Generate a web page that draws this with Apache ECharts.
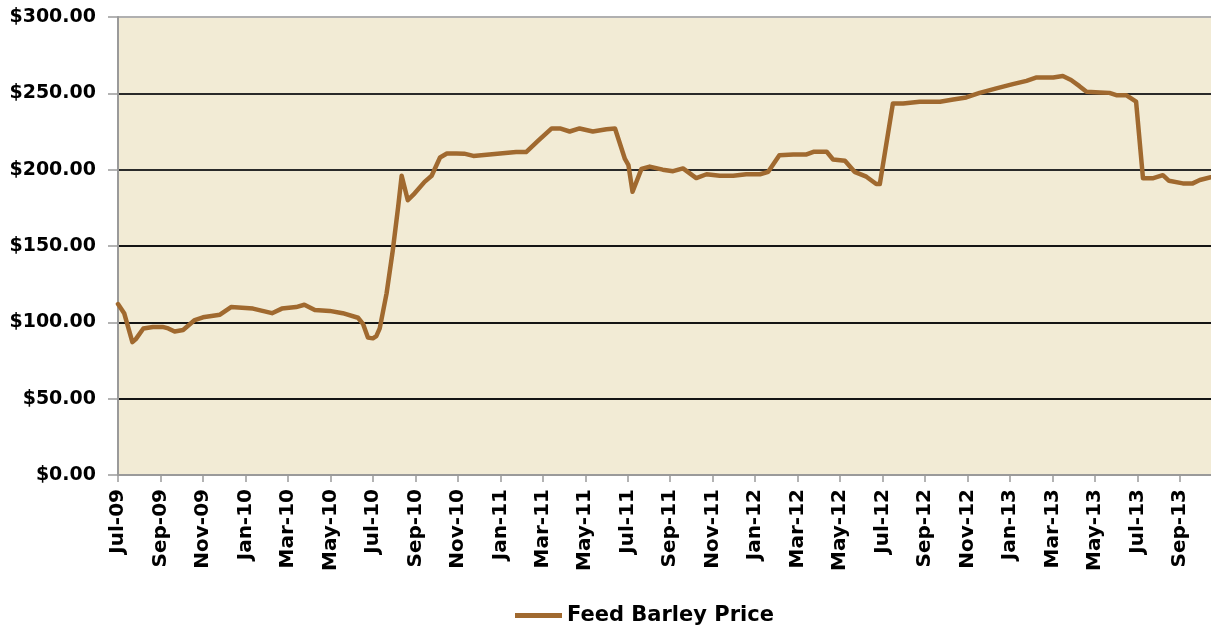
<!DOCTYPE html>
<html>
<head>
<meta charset="utf-8">
<script src="https://cdn.jsdelivr.net/npm/echarts@6/dist/echarts.min.js"></script>
<style>
html,body{margin:0;padding:0;background:#fff;}
#chart{width:1211px;height:631px;}
</style>
</head>
<body>
<div id="chart"></div>
<script>
const dates = [
  '2009-07-01','2009-07-10','2009-07-22','2009-07-27','2009-08-07','2009-08-21','2009-09-04','2009-09-12',
  '2009-09-21','2009-10-03','2009-10-20','2009-11-01','2009-11-25','2009-12-11','2010-01-12','2010-02-08',
  '2010-02-21','2010-03-13','2010-03-25','2010-04-09','2010-04-30','2010-05-19','2010-06-10','2010-06-17',
  '2010-06-24','2010-07-01','2010-07-06','2010-07-11','2010-07-21','2010-07-30','2010-08-07','2010-08-12',
  '2010-08-21','2010-08-31','2010-09-14','2010-09-24','2010-10-06','2010-10-16','2010-10-30','2010-11-10',
  '2010-11-23','2010-12-16','2011-01-24','2011-02-07','2011-02-23','2011-03-14','2011-03-26','2011-04-09',
  '2011-04-23','2011-05-12','2011-06-01','2011-06-13','2011-06-27','2011-07-02','2011-07-08','2011-07-21',
  '2011-08-02','2011-08-21','2011-09-05','2011-09-19','2011-10-08','2011-10-23','2011-11-11','2011-11-30',
  '2011-12-19','2012-01-08','2012-01-20','2012-02-05','2012-02-24','2012-03-14','2012-03-24','2012-04-12',
  '2012-04-21','2012-05-08','2012-05-22','2012-06-08','2012-06-22','2012-06-27','2012-07-16','2012-07-31',
  '2012-08-24','2012-09-22','2012-10-11','2012-10-30','2012-11-18','2012-12-12','2013-01-05','2013-01-25',
  '2013-02-08','2013-03-02','2013-03-16','2013-03-28','2013-04-09','2013-04-19','2013-05-08','2013-05-22',
  '2013-06-01','2013-06-15','2013-06-29','2013-07-09','2013-07-23','2013-08-07','2013-08-16','2013-09-05',
  '2013-09-19','2013-09-29','2013-10-15'
];
// Feed barley price ($/tonne)
const prices = [
  112,106,87,89,96,97,97,96,
  94,95,101.5,103.3,105,110,109,106,
  109,110,111.5,108,107.5,106,103,99,
  90,89.5,91,96,119,147,176,196,
  180,184.5,192,196,208,210.6,210.6,210.5,
  209,210,211.5,211.5,219,227,227,225,
  227,225,226.5,227,207,203,185.5,200.5,
  202,200,199,200.8,194.5,197,196,196,
  197,197,198.6,209.5,210,210,211.7,211.7,
  206.7,205.8,198.6,195.4,190.6,190.6,243.4,243.4,
  244.5,244.5,246,247.3,250.3,253.2,256,258.2,
  260.4,260.4,261.3,258.7,254.7,251,250.6,250.3,
  248.8,248.8,244.5,194.3,194.3,196.4,192.7,191,
  191,193.2,195
];
// Axis tick labels every two months starting Jul-09
const tickLabels = [
  'Jul-09','Sep-09','Nov-09','Jan-10','Mar-10','May-10','Jul-10','Sep-10','Nov-10',
  'Jan-11','Mar-11','May-11','Jul-11','Sep-11','Nov-11','Jan-12','Mar-12','May-12',
  'Jul-12','Sep-12','Nov-12','Jan-13','Mar-13','May-13','Jul-13','Sep-13'
];
const seriesName = 'Feed Barley Price';

function monthOffset(s) {
  const [y, m, d] = s.split('-').map(Number);
  const dim = new Date(y, m, 0).getDate();
  return (y - 2009) * 12 + (m - 7) + (d - 1) / dim;
}
const seriesData = dates.map((d, i) => [monthOffset(d), prices[i]]);
const tickValues = tickLabels.map((_, i) => i * 2);

const FONT = 'DejaVu Sans';
const chart = echarts.init(document.getElementById('chart'), null, {renderer: 'canvas'});
chart.setOption({
  animation: false,
  backgroundColor: '#ffffff',
  grid: {
    left: 118, top: 17, right: 0, bottom: 156,
    show: true, backgroundColor: '#F2EBD5', borderWidth: 0,
    containLabel: false
  },
  legend: {
    left: 515, top: 605, padding: 0,
    itemWidth: 47, itemHeight: 14, itemGap: 10,
    textStyle: {fontFamily: FONT, fontWeight: 'bold', fontSize: 21, color: '#000'},
    data: [{name: seriesName, icon: 'path://M0,5 L47,5 L47,10 L0,10 Z'}]
  },
  xAxis: {
    type: 'value', min: 0, max: 51.46,
    axisLine: {show: true, onZero: false, lineStyle: {color: '#9a9a9a', width: 2}},
    axisTick: {show: true, length: 7, lineStyle: {color: '#9a9a9a', width: 1.5}, customValues: tickValues},
    splitLine: {show: false},
    axisLabel: {
      customValues: tickValues,
      rotate: 90, margin: 14,
      fontFamily: FONT, fontWeight: 'bold', fontSize: 20, color: '#000',
      formatter: v => tickLabels[Math.round(v / 2)] || ''
    }
  },
  yAxis: {
    type: 'value', min: 0, max: 300, interval: 50,
    axisLine: {show: true, lineStyle: {color: '#9a9a9a', width: 2}},
    axisTick: {show: true, length: 10, lineStyle: {color: '#9a9a9a', width: 1.5}},
    splitLine: {show: true, lineStyle: {color: ['#9a9a9a','#141414','#141414','#141414','#2a2a2a','#2a2a2a','#b0b0b0'], width: 2}},
    axisLabel: {
      margin: 22,
      fontFamily: FONT, fontWeight: 'bold', fontSize: 19, color: '#000',
      formatter: v => '$' + v.toFixed(2)
    }
  },
  series: [{
    name: seriesName,
    type: 'line',
    data: seriesData,
    showSymbol: false, symbol: 'none',
    smooth: false,
    lineStyle: {color: '#A0692F', width: 4.5, join: 'round', cap: 'round'},
    itemStyle: {color: '#A0692F'}
  }]
});
</script>
</body>
</html>
